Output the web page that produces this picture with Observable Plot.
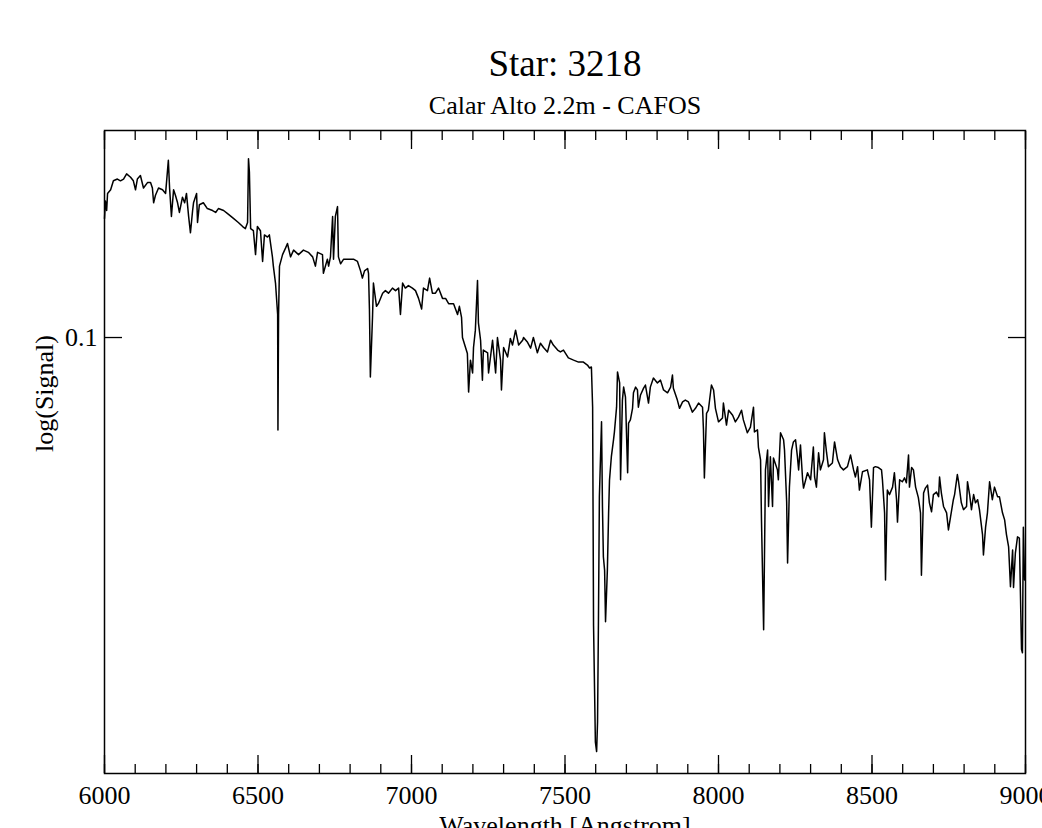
<!DOCTYPE html>
<html>
<head>
<meta charset="utf-8">
<script src="https://cdn.jsdelivr.net/npm/d3@7"></script>
<script src="https://cdn.jsdelivr.net/npm/@observablehq/plot@0.6"></script>
<style>
  html, body { margin: 0; padding: 0; background: #fff; overflow: hidden; }
  #chart { width: 1042px; height: 828px; }
</style>
</head>
<body>
<div id="chart"></div>
<script>
const titleText = "Star: 3218";
const subtitleText = "Calar Alto 2.2m - CAFOS";
const xLabel = "Wavelength [Angstrom]";
const yLabel = "log(Signal)";

const xMajorTicks = [6000, 6500, 7000, 7500, 8000, 8500, 9000];
const xMinorTicks = d3.range(6000, 9001, 100);
const yTicks = [0.1];
const yTickLabels = ["0.1"];

const wavelength = [
6000,6003,6007,6010,6020,6029,6042,6052,6062,6072,6085,6094,6101,6107,6117,6127,6140,6150,6156,6160,
6166,6176,6189,6199,6208,6212,6218,6225,6231,6238,6244,6254,6261,6267,6274,6280,6287,6290,6300,6303,
6309,6322,6335,6352,6362,6371,6388,6404,6420,6436,6450,6459,6466,6469,6472,6476,6485,6492,6498,6508,
6515,6521,6531,6537,6547,6550,6557,6564,6565,6567,6570,6580,6590,6596,6606,6616,6632,
6648,6664,6678,6687,6694,6710,6713,6726,6730,6736,6743,6746,6752,6759,6762,6769,6779,6795,6811,6824,
6834,6840,6847,6857,6860,6863,6866,6873,6876,6886,6892,6906,6915,6925,6938,6948,6958,6964,6971,6980,
6990,7003,7013,7023,7033,7039,7052,7059,7068,7078,7088,7101,7111,7121,7137,7150,7156,7163,7166,7176,
7182,7186,7192,7199,7202,7208,7215,7218,7225,7231,7234,7248,7251,
7264,7274,7280,7290,7293,7300,7313,7322,7329,7339,7349,7362,7365,7378,7388,7397,7410,7420,7430,7443,
7453,7462,7476,7485,7495,7511,7528,7544,7560,7573,7580,7586,7590,7593,7599,7603,7606,7609,7612,7619,
7622,7625,7629,7632,7638,7642,7645,7651,7658,7661,7668,7671,7678,7681,7687,7691,7697,7704,7707,7713,
7720,7723,7730,7736,7739,7746,7756,7762,7772,7778,7788,7801,7811,7821,7834,7844,7850,7853,7866,7873,
7883,7892,7902,7915,7925,7935,7948,7951,7954,7961,7967,7977,7984,7990,8000,8013,8016,8026,8033,8046,
8055,8065,8075,8081,8094,8104,8114,8117,8127,8130,8137,8140,8147,8153,8160,8163,8169,8176,8179,8192,
8195,8202,8212,8215,8222,8225,8231,8238,8244,8251,8257,8261,8267,8274,8277,8290,8300,8309,8313,8319,
8326,8332,8342,8345,8352,8358,8371,8378,8388,8397,8407,8420,8430,8440,8446,8453,8459,8469,8485,
8492,8498,8505,8511,8521,8531,8534,8541,8544,8550,8557,8567,8573,8580,8583,8590,8599,8606,8612,8619,
8622,8629,8635,8642,8651,8658,8661,8668,8674,8681,8687,8694,8700,8710,8717,8720,8726,8733,8743,8749,
8756,8765,8769,8778,8782,8791,8798,8808,8811,8818,8824,8831,8837,8844,8850,8860,8863,8870,8876,8883,
8892,8899,8909,8915,8925,8932,8938,8945,8951,8958,8961,8967,8974,8980,8987,8990,8993,8997
];

const signal = [
0.149,0.158,0.153,0.162,0.164,0.169,0.170,0.169,0.170,0.173,0.171,0.169,0.164,0.170,0.172,0.165,0.168,0.168,0.165,0.157,
0.161,0.165,0.164,0.162,0.181,0.165,0.150,0.164,0.161,0.157,0.152,0.160,0.157,0.162,0.150,0.142,0.153,0.157,0.162,0.147,
0.156,0.157,0.154,0.153,0.152,0.154,0.153,0.151,0.149,0.147,0.145,0.144,0.147,0.182,0.174,0.144,0.143,0.132,0.145,0.143,
0.129,0.141,0.140,0.141,0.131,0.127,0.120,0.108,0.0734,0.108,0.127,0.132,0.135,0.137,0.131,0.134,0.132,
0.134,0.133,0.131,0.127,0.133,0.132,0.124,0.130,0.127,0.131,0.150,0.130,0.150,0.155,0.131,0.128,0.130,0.130,0.130,0.129,
0.125,0.122,0.125,0.126,0.124,0.110,0.0876,0.107,0.120,0.111,0.112,0.116,0.117,0.116,0.118,0.117,0.118,0.108,0.120,0.118,
0.119,0.118,0.117,0.114,0.110,0.118,0.117,0.122,0.116,0.116,0.118,0.114,0.114,0.112,0.112,0.108,0.111,0.107,0.100,0.0967,
0.0948,0.0833,0.0927,0.0888,0.0967,0.1025,0.121,0.105,0.0991,0.0867,0.0959,0.0950,0.0888,
0.0991,0.0888,0.100,0.0927,0.0839,0.0967,0.0937,0.0997,0.0975,0.1025,0.0975,0.0991,0.100,0.0984,0.0965,0.100,0.0950,0.0981,0.0967,0.0953,
0.0991,0.0975,0.0959,0.0953,0.0959,0.0934,0.0927,0.0921,0.0921,0.0912,0.0903,0.0906,0.0792,0.0381,0.0258,0.0250,0.0276,0.0389,0.0587,0.0754,
0.0568,0.0480,0.0459,0.0386,0.0459,0.0555,0.0621,0.0671,0.0710,0.0729,0.0792,0.0891,0.0859,0.0621,0.0811,0.0847,0.0819,0.0636,0.0751,0.0759,
0.0789,0.0831,0.0847,0.0839,0.0792,0.0825,0.0844,0.0853,0.0803,0.0847,0.0873,0.0859,0.0867,0.0839,0.0831,0.0847,0.0882,0.0844,0.0811,0.0789,
0.0806,0.0811,0.0806,0.0779,0.0789,0.0803,0.0792,0.0734,0.0625,0.0776,0.0784,0.0853,0.0839,0.0789,0.0754,0.0764,0.0803,0.0746,0.0784,0.0771,
0.0754,0.0766,0.0784,0.0759,0.0727,0.0741,0.0792,0.0729,0.0734,0.0693,0.0664,0.0543,0.0376,0.0642,0.0686,0.0568,0.0671,0.0568,0.0668,0.0642,
0.0621,0.0727,0.0710,0.0686,0.0577,0.0470,0.0606,0.0686,0.0705,0.0710,0.0671,0.0642,0.0698,0.0621,0.0604,0.0636,0.0621,0.0693,0.0627,0.0606,
0.0680,0.0642,0.0664,0.0727,0.0680,0.0649,0.0657,0.0705,0.0664,0.0649,0.0642,0.0649,0.0675,0.0642,0.0627,0.0649,0.0600,0.0638,0.0642,
0.0621,0.0530,0.0647,0.0649,0.0647,0.0642,0.0621,0.0556,0.0444,0.0600,0.0591,0.0606,0.0636,0.0581,0.0539,0.0621,0.0617,0.0625,0.0615,0.0675,
0.0606,0.0647,0.0642,0.0606,0.0585,0.0556,0.0451,0.0594,0.0604,0.0610,0.0575,0.0558,0.0591,0.0596,0.0587,0.0627,0.0594,0.0568,0.0556,0.0525,
0.0549,0.0581,0.0591,0.0632,0.0617,0.0575,0.0562,0.0568,0.0617,0.0591,0.0562,0.0591,0.0575,0.0581,0.0562,0.0517,0.0483,0.0530,0.0556,0.0617,
0.0581,0.0606,0.0587,0.0587,0.0556,0.0543,0.0517,0.0496,0.0434,0.0491,0.0433,0.0486,0.0513,0.0511,0.0352,0.0348,0.0530,0.0444
];

const spectrum = wavelength.map((w, i) => ({wavelength: w, signal: signal[i]}));

const font = "'Liberation Serif', 'Times New Roman', serif";

const chart = Plot.plot({
  width: 1042,
  height: 828,
  marginTop: 130,
  marginBottom: 55,
  marginLeft: 104,
  marginRight: 17,
  style: {fontFamily: font, fontSize: "26px", color: "black", background: "white", overflow: "visible"},
  x: {domain: [6000, 9000]},
  y: {type: "log", domain: [0.02323, 0.2]},
  marks: [
    Plot.line(spectrum, {x: "wavelength", y: "signal", stroke: "black", strokeWidth: 1.5}),
    Plot.frame({stroke: "black", strokeWidth: 1.5}),
    // inward ticks, bottom and top
    Plot.axisX({anchor: "bottom", ticks: xMinorTicks, tickSize: -9, tickFormat: () => "", label: null, strokeWidth: 1.3}),
    Plot.axisX({anchor: "bottom", ticks: xMajorTicks, tickSize: -18, tickFormat: () => "", label: null, strokeWidth: 1.3}),
    Plot.axisX({anchor: "top", ticks: xMinorTicks, tickSize: -9, tickFormat: () => "", label: null, strokeWidth: 1.3}),
    Plot.axisX({anchor: "top", ticks: xMajorTicks, tickSize: -18, tickFormat: () => "", label: null, strokeWidth: 1.3}),
    Plot.axisX({anchor: "bottom", ticks: xMajorTicks, tickSize: 0, tickPadding: 12, tickFormat: d => String(d), label: null, fontSize: 26}),
    // y ticks
    Plot.axisY({anchor: "left", ticks: yTicks, tickSize: -18, tickFormat: () => "", label: null, strokeWidth: 1.3}),
    Plot.axisY({anchor: "right", ticks: yTicks, tickSize: -18, tickFormat: () => "", label: null, strokeWidth: 1.3}),
    Plot.axisY({anchor: "left", ticks: yTicks, tickSize: 0, tickPadding: 7, tickFormat: d => yTickLabels[yTicks.indexOf(d)] ?? String(d), label: null, fontSize: 26}),
    // titles
    Plot.text([titleText], {frameAnchor: "top", dy: -55, lineAnchor: "bottom", fontSize: 37, fill: "black"}),
    Plot.text([subtitleText], {frameAnchor: "top", dy: -17, lineAnchor: "bottom", fontSize: 26, fill: "black"}),
    Plot.text([xLabel], {frameAnchor: "bottom", dy: 60, lineAnchor: "bottom", fontSize: 26, fill: "black"}),
    Plot.text([yLabel], {frameAnchor: "left", dx: -60, rotate: -90, lineAnchor: "middle", fontSize: 26, fill: "black"})
  ]
});

document.getElementById("chart").appendChild(chart);
</script>
</body>
</html>
